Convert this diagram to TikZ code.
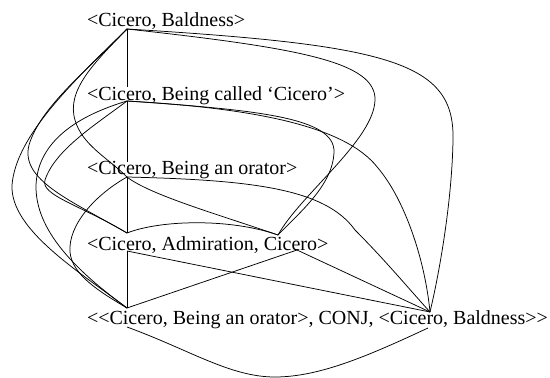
\documentclass[tikz,border=0pt]{standalone}
\usepackage{fontspec}
\setmainfont{Liberation Serif}
\begin{document}
\begin{tikzpicture}[x=1pt,y=-1pt,
  lbl/.style={anchor=base west, inner sep=0pt, outer sep=0pt, font=\fontsize{20}{24}\selectfont},
  link/.style={line width=0.75pt, black}]
\useasboundingbox (0,0) rectangle (550,378);
% texts
\node[lbl] (t1) at (87,26) {<Cicero, Baldness>};
\node[lbl] (t2) at (87,100) {<Cicero, Being called ‘Cicero’>};
\node[lbl] (t3) at (87,174.5) {<Cicero, Being an orator>};
\node[lbl] (t4) at (87,250) {<Cicero, Admiration, Cicero>};
\node[lbl] (t5) at (87,324) {<\kern0pt<Cicero, Being an orator>, CONJ, <Cicero, Baldness>\kern0pt>};
% anchors
\coordinate (A) at (127,29);
\coordinate (Bt) at (127,87);
\coordinate (B) at (127,101);
\coordinate (Ct) at (127,162);
\coordinate (C) at (127,177);
\coordinate (D) at (127,233);
\coordinate (Db) at (127,251);
\coordinate (E) at (127,308);
\coordinate (Eb) at (127,327);
\coordinate (G) at (278,235);
\coordinate (Gb) at (297,250);
\coordinate (F) at (430,312);
\coordinate (Fb) at (428,328);
% vertical chain
\draw[link] (A) -- (Bt);
\draw[link] (B) -- (Ct);
\draw[link] (C) -- (D);
\draw[link] (Db) -- (E);
% right side
\draw[link] (A) .. controls (390,45) and (455,62) .. (453,140) .. controls (452,200) and (440,270) .. (F);
\draw[link] (A) .. controls (300,48) and (376,62) .. (375,100) .. controls (374,140) and (300,195) .. (G);
\draw[link] (B) .. controls (260,110) and (335,118) .. (334,152) .. controls (333,185) and (300,212) .. (G);
\draw[link] (B) .. controls (250,108) and (345,125) .. (378,168) .. controls (405,200) and (425,260) .. (F);
\draw[link] (C) .. controls (250,180) and (325,188) .. (355,230) .. controls (385,260) and (410,290) .. (F);
\draw[link] (C) .. controls (150,195) and (220,215) .. (G);
\draw[link] (D) .. controls (160,220) and (230,218) .. (G);
\draw[link] (Db) -- (F);
\draw[link] (E) -- (Gb);
\draw[link] (Gb) -- (F);
\draw[link] (Eb) .. controls (190,350) and (230,377) .. (275,377) .. controls (320,377) and (370,355) .. (Fb);
% left side
\draw[link] (A) .. controls (95,62) and (66,90) .. (75,120) .. controls (82,145) and (108,158) .. (C);
\draw[link] (A) .. controls (85,72) and (40,108) .. (29,145) .. controls (20,180) and (70,200) .. (D);
\draw[link] (A) .. controls (75,80) and (16,135) .. (12,185) .. controls (10,230) and (80,272) .. (E);
\draw[link] (B) .. controls (80,115) and (38,140) .. (36,185) .. controls (35,230) and (75,270) .. (E);
\draw[link] (B) .. controls (95,125) and (55,150) .. (45,180) .. controls (40,195) and (80,205) .. (D);
\draw[link] (C) .. controls (95,195) and (68,225) .. (70,252) .. controls (72,275) and (100,292) .. (E);
\end{tikzpicture}
\end{document}
